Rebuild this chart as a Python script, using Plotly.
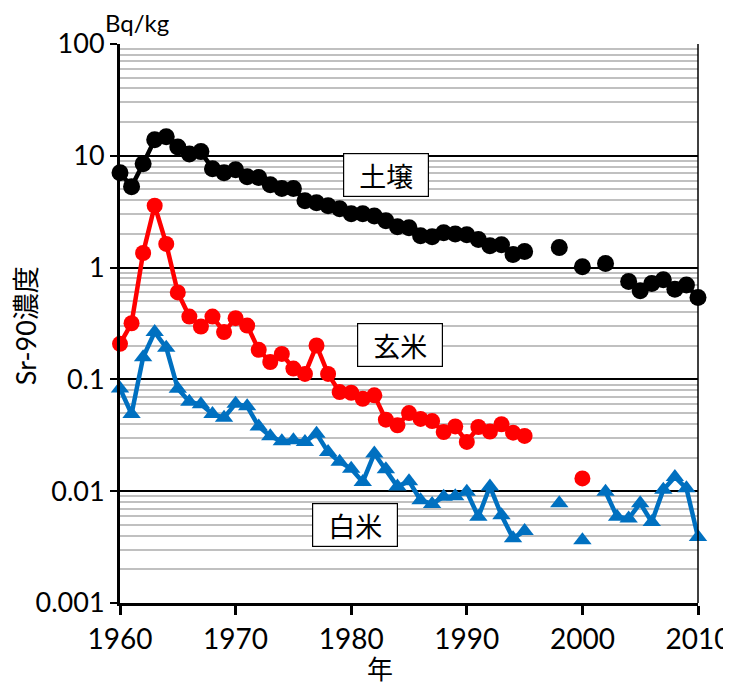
import plotly.graph_objects as go

years = list(range(1960, 2011))

soil = [7.05, 5.3, 8.5, 13.9, 14.8, 12.0, 10.4, 10.9, 7.65, 7.05,
        7.5, 6.5, 6.4, 5.5, 5.1, 5.1, 3.97, 3.8, 3.58, 3.36,
        3.03, 3.03, 2.9, 2.63, 2.32, 2.27, 1.93, 1.89, 2.05, 2.0,
        1.97, 1.78, 1.57, 1.6, 1.31, 1.39, None, None, 1.51, None,
        1.02, None, 1.09, None, 0.75, 0.62, 0.72, 0.78, 0.64, 0.70,
        0.54]

brown_rice = [0.208, 0.318, 1.35, 3.58, 1.63, 0.60, 0.365, 0.297, 0.365, 0.265,
              0.353, 0.303, 0.184, 0.143, 0.169, 0.125, 0.112, 0.201, 0.112, 0.077,
              0.076, 0.067, 0.072, 0.0436, 0.0389, 0.050, 0.0443, 0.0424, 0.0338, 0.038,
              0.0276, 0.0375, 0.0342, 0.0397, 0.0334, 0.0312, None, None, None, None,
              0.013, None, None, None, None, None, None, None, None, None,
              None]

white_rice = [0.083, 0.049, 0.158, 0.265, 0.192, 0.0826, 0.063, 0.0598, 0.049, 0.0455,
              0.0607, 0.0574, 0.038, 0.031, 0.028, 0.0286, 0.0276, 0.0327, 0.0224, 0.0183,
              0.0159, 0.0121, 0.0217, 0.0157, 0.011, 0.0123, 0.0083, 0.0077, 0.0089, 0.009,
              0.0099, 0.0059, 0.011, 0.0061, 0.0038, 0.0044, None, None, 0.0078, None,
              0.00365, None, 0.0099, 0.0059, 0.0057, 0.0078, 0.0053, 0.0103, 0.0134, 0.0106,
              0.0039]

y_tickvals = [0.001, 0.01, 0.1, 1, 10, 100]
y_ticktext = ["0.001", "0.01", "0.1", "1", "10", "100"]
x_tickvals = [1960, 1970, 1980, 1990, 2000, 2010]

series_labels = ["土壌", "玄米", "白米"]

NUM_FONT = "Lato, 'Noto Sans', sans-serif"
JP_FONT = "'Noto Sans CJK JP', sans-serif"
MIX_FONT = "Lato, 'Noto Sans CJK JP', sans-serif"

fig = go.Figure()

fig.add_trace(go.Scatter(
    x=years, y=white_rice, mode="lines+markers", name="白米",
    line=dict(color="#0070c0", width=4.5),
    marker=dict(symbol="triangle-up", size=16, color="#0070c0"),
    cliponaxis=False, connectgaps=False))
fig.add_trace(go.Scatter(
    x=years, y=brown_rice, mode="lines+markers", name="玄米",
    line=dict(color="#ff0000", width=4.5),
    marker=dict(symbol="circle", size=16, color="#ff0000"),
    cliponaxis=False, connectgaps=False))
fig.add_trace(go.Scatter(
    x=years, y=soil, mode="lines+markers", name="土壌",
    line=dict(color="#000000", width=4.5),
    marker=dict(symbol="circle", size=17, color="#000000"),
    cliponaxis=False, connectgaps=False))

fig.update_layout(
    width=723, height=677,
    margin=dict(l=112, r=33, t=36, b=82),
    paper_bgcolor="white", plot_bgcolor="white",
    showlegend=False,
    xaxis=dict(
        range=[1960, 2010], tickmode="array", tickvals=x_tickvals,
        ticks="outside", ticklen=9, tickwidth=3, tickcolor="black",
        showline=True, linecolor="black", linewidth=3,
        showgrid=False, zeroline=False, automargin=False,
        tickfont=dict(family=NUM_FONT, size=28, color="black"),
    ),
    yaxis=dict(
        type="log", range=[-3, 2], tickmode="array",
        tickvals=y_tickvals, ticktext=y_ticktext,
        ticks="outside", ticklen=7, tickwidth=2, tickcolor="black",
        showline=True, linecolor="black", linewidth=3,
        showgrid=True, gridcolor="black", gridwidth=1.5,
        zeroline=False, automargin=False,
        tickfont=dict(family=NUM_FONT, size=27, color="black"),
        minor=dict(dtick="D1", showgrid=True, gridcolor="#c0c0c0", gridwidth=2, ticks=""),
    ),
)

fig.add_shape(type="line", xref="paper", yref="paper", x0=1, x1=1, y0=0, y1=1,
              line=dict(color="black", width=1.5))

box_pos = [(1983.0, 0.766), (1984.2, 0.4615), (1980.3, 0.1395)]
for label, (bx, by) in zip(series_labels, box_pos):
    fig.add_annotation(x=bx, y=by, xref="x", yref="paper", text=label,
                       showarrow=False, xanchor="center", yanchor="middle",
                       font=dict(family=JP_FONT, size=27, color="black"),
                       bgcolor="white", bordercolor="black", borderwidth=1.2,
                       width=84, height=42, borderpad=0)

fig.add_annotation(x=-0.1644, y=0.497, xref="paper", yref="paper", text="Sr-90濃度",
                   textangle=-90, showarrow=False, xanchor="center", yanchor="middle",
                   font=dict(family=MIX_FONT, size=27, color="black"))
fig.add_annotation(x=0.45, y=-0.116, xref="paper", yref="paper", text="年",
                   showarrow=False, xanchor="center", yanchor="middle",
                   font=dict(family=JP_FONT, size=26, color="black"))
fig.add_annotation(x=0.0294, y=1.0376, xref="paper", yref="paper", text="Bq/kg",
                   showarrow=False, xanchor="center", yanchor="middle",
                   font=dict(family=NUM_FONT, size=24, color="black"))

fig.write_html("out.html")
